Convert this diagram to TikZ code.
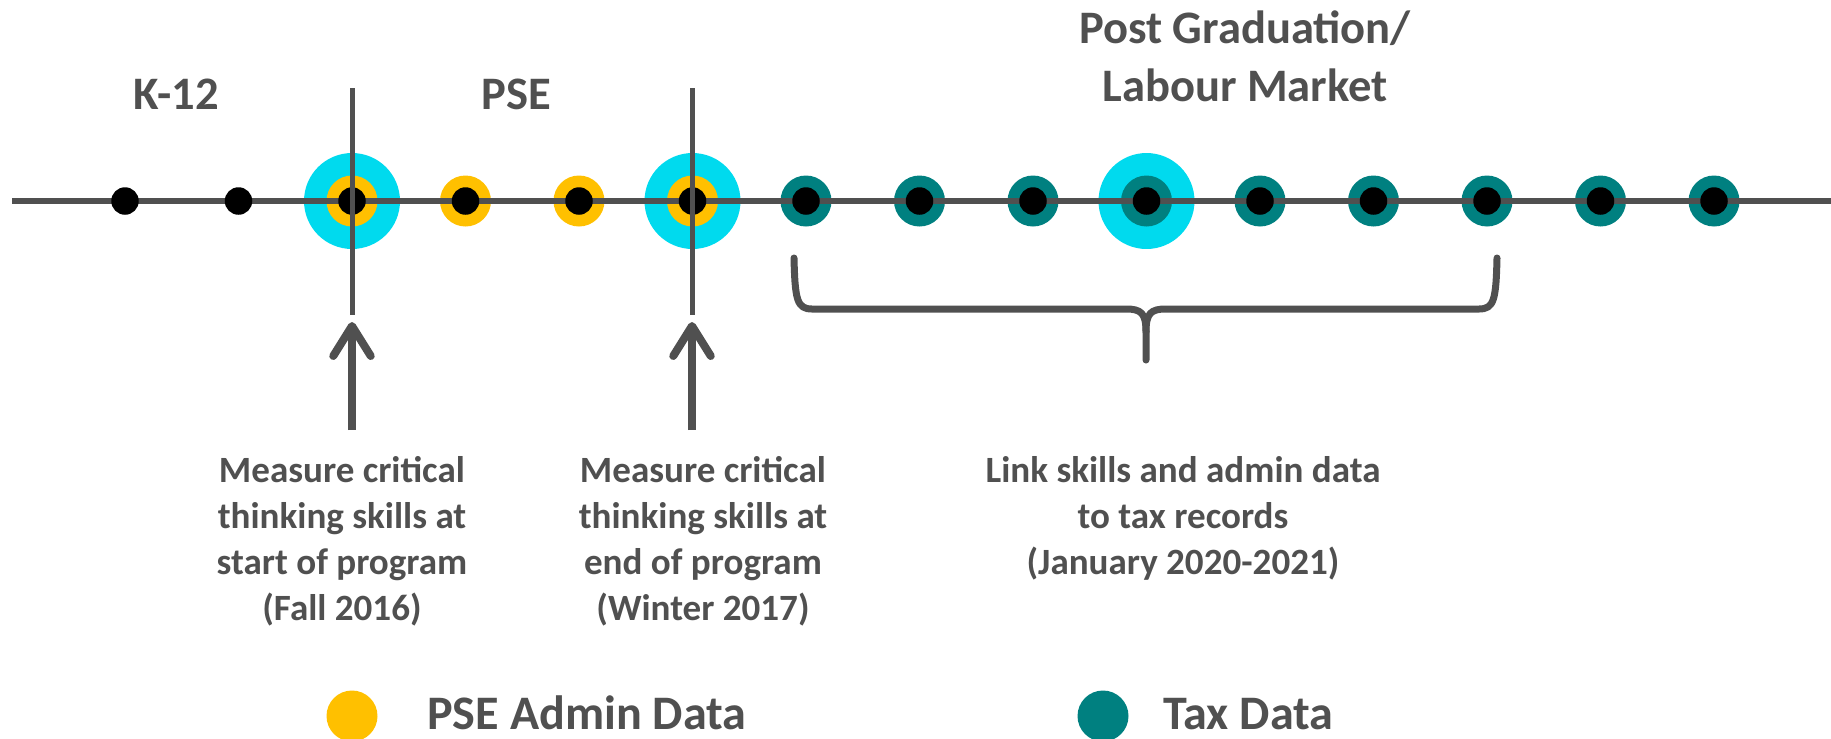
\documentclass[tikz,border=0pt]{standalone}
\usepackage{fontspec}
\setmainfont{Carlito}
\usetikzlibrary{arrows.meta}

\definecolor{linegray}{RGB}{80,80,80}
\definecolor{halo}{RGB}{0,218,238}
\definecolor{admin}{RGB}{255,192,0}
\definecolor{tax}{RGB}{0,128,128}

\tikzset{
  dot/.style={circle, fill=black, inner sep=0pt, minimum size=0.55cm},
  ring/.style={circle, fill=#1, inner sep=0pt, minimum size=1.02cm},
  glow/.style={circle, fill=halo, inner sep=0pt, minimum size=1.92cm},
  heading/.style={text=linegray, font=\fontsize{26.5}{33}\selectfont\bfseries, align=center},
  note/.style={text=linegray, font=\fontsize{21.1}{26.2}\selectfont\bfseries, align=center},
  legend/.style={text=linegray, font=\fontsize{27.4}{32}\selectfont\bfseries, anchor=base west, inner sep=0pt},
  markline/.style={linegray, line width=0.1cm},
  uparrow/.style={linegray, line width=0.16cm, -{Straight Barb[round, length=0.6cm, width=0.75cm]}},
  brace/.style={linegray, line width=0.14cm, line cap=round, line join=round},
}

\begin{document}
\begin{tikzpicture}[x=0.02cm, y=-0.02cm]
\useasboundingbox (0,0) rectangle (1831,738);

% halos and coloured rings
\foreach \i in {2,5,9}{
  \node[glow] (h\i) at ({125+113.5*\i},201) {};
}
\foreach \i in {2,...,5}{
  \node[ring=admin] (r\i) at ({125+113.5*\i},201) {};
}
\foreach \i in {6,...,14}{
  \node[ring=tax] (r\i) at ({125+113.5*\i},201) {};
}

% time line
\coordinate (start) at (12,201);
\coordinate (end) at (1831,201);
\draw[linegray, line width=0.12cm] (start) -- (end);

\foreach \i in {0,...,14}{
  \node[dot] (d\i) at ({125+113.5*\i},201) {};
}

% measurement points
\coordinate (m1top) at (352,88);
\coordinate (m1bot) at (352,315);
\coordinate (m2top) at (692,88);
\coordinate (m2bot) at (692,315);
\draw[markline] (m1top) -- (m1bot);
\draw[markline] (m2top) -- (m2bot);

\coordinate (a1tail) at (352,430);
\coordinate (a1tip) at (352,322);
\coordinate (a2tail) at (692,430);
\coordinate (a2tip) at (692,322);
\draw[uparrow] (a1tail) -- (a1tip);
\draw[uparrow] (a2tail) -- (a2tip);

% brace under tax years
\draw[brace] (794,258) .. controls (795,300) and (797,309) .. (812,309) -- (1126,309)
  .. controls (1141,309) and (1146,313) .. (1146,332) -- (1146,360);
\draw[brace] (1497,258) .. controls (1496,300) and (1494,309) .. (1479,309) -- (1166,309)
  .. controls (1151,309) and (1146,313) .. (1146,332);

% headings
\node[heading, anchor=base] (k12) at (176,109) {K-12};
\node[heading, anchor=base] (pse) at (516,109) {PSE};
\node[heading, anchor=base] (post1) at (1245,43) {Post Graduation/};
\node[heading, anchor=base] (post2) at (1245,101) {Labour Market};

% notes
\node[note, anchor=north] (note1) at (342,450) {Measure critical\\thinking skills at\\start of program\\(Fall 2016)};
\node[note, anchor=north] (note2) at (703,450) {Measure critical\\thinking skills at\\end of program\\(Winter 2017)};
\node[note, anchor=north] (note3) at (1183,450) {Link skills and admin data\\to tax records\\(January 2020-2021)};

% legend
\node[ring=admin] (key1) at (352,716) {};
\node[legend] (lab1) at (427,729) {PSE Admin Data};
\node[ring=tax] (key2) at (1103,716) {};
\node[legend] (lab2) at (1163,729) {Tax Data};
\end{tikzpicture}
\end{document}
